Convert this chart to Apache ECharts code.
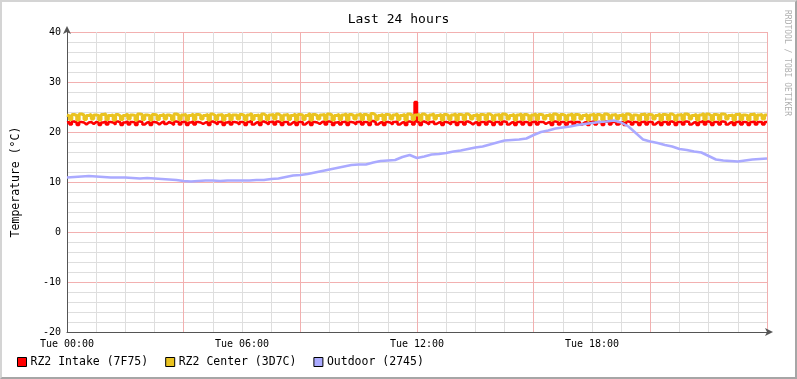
<!DOCTYPE html>
<html><head><meta charset="utf-8">
<script src="https://cdn.jsdelivr.net/npm/echarts@6/dist/echarts.min.js"></script>
<style>
html,body{margin:0;padding:0;background:#fff;}
#c{width:793px;height:375px;border-top:2px solid #d4d4d4;border-left:2px solid #d4d4d4;border-right:2px solid #a6a6a6;border-bottom:2px solid #a6a6a6;}
</style></head><body><div id="c"></div>
<script>
// 5-minute samples, hours 00:00 .. 24:00
const stepMinutes = 5;
const centerTemps = [
23.4,23.2,22.5,23.5,23.3,22.4,23.6,23.4,22.5,23.3,23.5,22.6,
23.4,23.3,22.4,23.5,23.6,22.5,23.3,23.4,22.4,23.5,23.2,22.5,
23.3,23.6,22.6,23.4,23.3,22.4,23.6,23.5,22.5,23.4,23.3,22.4,
23.5,23.4,22.5,23.3,23.5,22.6,23.4,23.2,22.4,23.6,23.4,22.5,
23.4,23.5,22.4,23.3,23.6,22.5,23.5,23.4,22.6,23.3,23.5,22.4,
23.6,23.3,22.5,23.4,23.5,22.4,23.3,23.6,22.5,23.4,23.4,22.6,
23.5,23.3,22.4,23.4,23.7,22.5,23.3,23.4,22.4,23.6,23.3,22.5,
23.4,23.5,22.6,23.6,23.3,22.4,23.4,23.5,22.5,23.3,23.6,22.4,
23.5,23.4,22.5,23.3,23.7,22.4,23.5,23.3,22.6,23.4,23.5,22.5,
23.6,23.4,22.4,23.3,23.5,22.5,23.4,23.6,22.4,23.5,23.3,22.6,
23.4,23.6,22.5,23.5,23.3,22.4,23.7,23.4,22.5,23.3,23.5,22.4,
23.5,23.4,22.6,23.4,23.6,22.5,23.3,23.5,22.4,23.6,23.4,22.5,
23.4,23.5,22.4,23.6,23.3,22.5,23.4,23.6,22.6,23.3,23.5,22.4,
23.5,23.3,22.5,23.4,23.6,22.4,23.5,23.4,22.5,23.6,23.3,22.6,
23.3,23.5,22.4,23.5,23.4,22.5,23.6,23.3,22.4,23.4,23.5,22.5,
23.6,23.4,22.6,23.3,23.5,22.4,23.4,23.6,22.5,23.5,23.3,22.4,
23.4,23.6,22.5,23.5,23.4,22.6,23.3,23.5,22.4,23.6,23.4,22.5,
23.5,23.3,22.4,23.4,23.6,22.5,23.5,23.4,22.6,23.3,23.5,22.4,
23.4,23.6,22.5,23.5,23.3,22.4,23.6,23.4,22.5,23.4,23.5,22.6,
23.3,23.5,22.4,23.6,23.4,22.5,23.4,23.3,22.4,23.5,23.6,22.5,
23.5,23.4,22.6,23.3,23.6,22.4,23.5,23.4,22.5,23.6,23.3,22.4,
23.4,23.5,22.5,23.6,23.4,22.6,23.3,23.5,22.4,23.4,23.7,22.5,
23.6,23.3,22.4,23.5,23.4,22.5,23.6,23.5,22.6,23.3,23.4,22.4,
23.5,23.6,22.5,23.4,23.3,22.4,23.5,23.6,22.5,23.4,23.5,22.6,
23.4];
const intakeTemps = [
21.9,22.0,21.5,22.1,21.9,21.4,22.0,21.9,21.5,21.9,22.0,21.6,
22.0,21.9,21.4,21.9,22.1,21.5,22.0,21.9,21.5,22.1,21.9,21.4,
21.9,22.1,21.5,22.0,21.9,21.4,22.1,22.0,21.5,21.9,22.0,21.4,
22.0,21.9,21.5,21.9,22.1,21.6,22.0,21.8,21.4,22.1,22.0,21.5,
22.0,22.1,21.4,21.9,22.1,21.5,22.0,21.9,21.6,21.9,22.0,21.4,
22.1,21.9,21.5,22.0,22.1,21.4,21.9,22.1,21.5,22.0,21.9,21.5,
22.0,21.9,21.4,22.0,22.2,21.5,21.9,22.0,21.4,22.1,21.9,21.5,
22.0,22.1,21.5,22.1,21.9,21.4,22.0,22.0,21.5,21.9,22.1,21.4,
22.0,22.0,21.5,21.9,22.2,21.4,22.0,21.9,21.6,22.0,22.1,21.5,
22.1,22.0,21.4,21.9,22.0,21.5,22.0,22.1,21.4,22.0,21.9,21.5,
22.0,22.1,21.5,22.0,21.9,21.4,22.2,22.0,21.5,21.9,22.0,21.4,
22.0,21.9,21.5,22.0,22.1,21.5,21.9,22.0,21.4,22.1,22.0,21.5,
26.0,22.0,21.4,22.1,21.9,21.5,22.0,22.1,21.6,21.9,22.0,21.4,
22.0,21.9,21.5,22.0,22.1,21.4,22.0,22.0,21.5,22.1,21.9,21.5,
21.9,22.0,21.4,22.0,22.0,21.5,22.1,21.9,21.4,22.0,22.0,21.5,
22.1,22.0,21.5,21.9,22.0,21.4,22.0,22.1,21.5,22.0,21.9,21.4,
22.0,22.1,21.5,22.0,22.0,21.6,21.9,22.0,21.4,22.1,22.0,21.5,
22.0,21.9,21.4,22.0,22.1,21.5,22.0,22.0,21.5,21.9,22.0,21.4,
22.0,22.1,21.5,22.0,21.9,21.4,22.1,22.0,21.5,22.0,22.0,21.5,
21.9,22.0,21.4,22.1,22.0,21.5,22.0,21.9,21.4,22.0,22.1,21.5,
22.0,22.0,21.5,21.9,22.1,21.4,22.0,22.0,21.5,22.1,21.9,21.4,
22.0,22.0,21.5,22.1,22.0,21.5,21.9,22.0,21.4,22.0,22.2,21.5,
22.1,21.9,21.4,22.0,22.0,21.5,22.1,22.0,21.5,21.9,22.0,21.4,
22.0,22.1,21.5,22.0,21.9,21.4,22.0,22.1,21.5,22.0,22.0,21.5,
22.0];
// 15-minute samples
const outdoorStepMinutes = 15;
const outdoorTemps = [
10.9,11.0,11.1,11.2,11.1,11.0,10.9,10.9,10.9,10.8,10.7,10.8,
10.7,10.6,10.5,10.4,10.2,10.1,10.2,10.3,10.3,10.2,10.3,10.3,
10.3,10.3,10.4,10.4,10.6,10.7,11.0,11.3,11.4,11.6,11.9,12.2,
12.5,12.8,13.1,13.4,13.5,13.5,13.9,14.2,14.3,14.4,15.0,15.4,
14.8,15.1,15.5,15.6,15.8,16.1,16.3,16.6,16.9,17.1,17.5,17.9,
18.3,18.4,18.5,18.7,19.4,20.0,20.3,20.7,20.9,21.1,21.4,21.6,
21.8,22.0,22.1,22.3,21.9,21.1,19.8,18.5,18.1,17.8,17.4,17.1,
16.6,16.4,16.1,15.9,15.2,14.5,14.3,14.2,14.1,14.3,14.5,14.6,
14.7];
const seriesNames = ['RZ2 Intake (7F75)','RZ2 Center (3D7C)','Outdoor (2745)'];
const seriesColors = ['#ff0000','#eac320','#aaaaff'];
const xTickHours = [0,6,12,18];
const yTicks = [-20,-10,0,10,20,30,40];

const toPairs = (arr, stepMin) => arr.map((v,i)=>[i*stepMin/60, v]);
const font = 'DejaVu Sans Mono';
const chart = echarts.init(document.getElementById('c'));
chart.setOption({
  animation:false,
  backgroundColor:'#ffffff',
  title:{text:'Last 24 hours',left:'center',top:6,textStyle:{fontFamily:font,fontSize:13,fontWeight:'normal',color:'#000'}},
  legend:{left:10,top:349,itemWidth:9,itemHeight:9,itemGap:17,icon:'rect',
    itemStyle:{borderColor:'#000',borderWidth:1},
    textStyle:{fontFamily:font,fontSize:11.5,color:'#000',padding:[0,0,0,-1]},
    data:seriesNames},
  grid:{left:65,right:28,top:30,bottom:45},
  xAxis:{type:'value',min:0,max:24,interval:1,
    axisLine:{show:true,onZero:false,lineStyle:{color:'#555',width:1},symbol:['none','arrow'],symbolSize:[6,8],symbolOffset:[0,6]},
    axisTick:{show:false},
    axisLabel:{fontFamily:font,fontSize:10,color:'#000',margin:7,showMaxLabel:false,
      formatter:v=>xTickHours.includes(v)?'Tue '+String(v).padStart(2,'0')+':00':''},
    splitLine:{show:true,lineStyle:{color:['#f2b0b0','#dedede','#dedede','#dedede'],width:1}}},
  yAxis:{type:'value',min:-20,max:40,interval:2,
    name:'Temperature (°C)',nameLocation:'middle',nameGap:45,nameRotate:90,
    nameTextStyle:{fontFamily:font,fontSize:11.5,color:'#000'},
    axisLine:{show:true,onZero:false,lineStyle:{color:'#555',width:1},symbol:['none','arrow'],symbolSize:[6,8],symbolOffset:[0,6]},
    axisTick:{show:false},
    axisLabel:{fontFamily:font,fontSize:10,color:'#000',margin:6,
      formatter:v=>yTicks.includes(v)?String(v):''},
    splitLine:{show:true,lineStyle:{color:['#f2b0b0','#dedede','#dedede','#dedede','#dedede'],width:1}}},
  series:[
    {name:seriesNames[0],type:'line',data:toPairs(intakeTemps,stepMinutes),step:'start',showSymbol:false,
     lineStyle:{color:seriesColors[0],width:2.5},itemStyle:{color:seriesColors[0]},z:3},
    {name:seriesNames[1],type:'line',data:toPairs(centerTemps,stepMinutes),step:'start',showSymbol:false,
     lineStyle:{color:seriesColors[1],width:3},itemStyle:{color:seriesColors[1]},z:4},
    {name:seriesNames[2],type:'line',data:toPairs(outdoorTemps,outdoorStepMinutes),showSymbol:false,
     lineStyle:{color:seriesColors[2],width:2.5},itemStyle:{color:seriesColors[2]},z:5}
  ],
  graphic:[{type:'text',right:4,top:8,rotation:-Math.PI/2,
    style:{text:'RRDTOOL / TOBI OETIKER',font:'8px "DejaVu Sans Mono"',fill:'#b0b0b0'}}]
});
</script></body></html>
